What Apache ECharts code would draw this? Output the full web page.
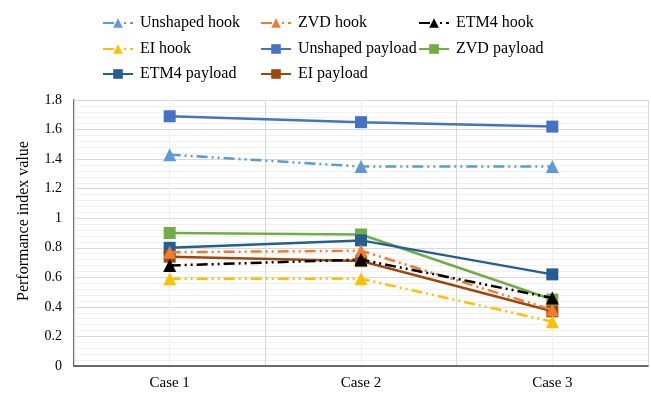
<!DOCTYPE html>
<html>
<head>
<meta charset="utf-8">
<style>
  html, body { margin: 0; padding: 0; background: #fff; }
  #chart { width: 651px; height: 399px; }
</style>
<script src="https://cdn.jsdelivr.net/npm/echarts@6/dist/echarts.min.js"></script>
</head>
<body>
<div id="chart"></div>
<script>
// Categories and tick values
const cases = ['Case 1', 'Case 2', 'Case 3'];
const yTicks = { min: 0, max: 1.8, step: 0.2 };

// Performance index values per method
const unshapedHook    = [1.43, 1.35, 1.35];
const zvdHook         = [0.77, 0.78, 0.38];
const etm4Hook        = [0.68, 0.72, 0.46];
const eiHook          = [0.59, 0.59, 0.30];
const unshapedPayload = [1.69, 1.65, 1.62];
const zvdPayload      = [0.90, 0.89, 0.45];
const etm4Payload     = [0.80, 0.85, 0.62];
const eiPayload       = [0.74, 0.71, 0.37];

const FONT = '"Liberation Serif", "Times New Roman", serif';
const dashDotDot = [11, 4, 2, 4, 2, 4];

const seriesDefs = [
  { name: 'Unshaped hook',    data: unshapedHook,    color: '#5B9BD5', hook: true },
  { name: 'ZVD hook',         data: zvdHook,         color: '#ED7D31', hook: true },
  { name: 'ETM4 hook',        data: etm4Hook,        color: '#000000', hook: true },
  { name: 'EI hook',          data: eiHook,          color: '#FFC000', hook: true },
  { name: 'Unshaped payload', data: unshapedPayload, color: '#4472C4', hook: false },
  { name: 'ZVD payload',      data: zvdPayload,      color: '#70AD47', hook: false },
  { name: 'ETM4 payload',     data: etm4Payload,     color: '#255E91', hook: false },
  { name: 'EI payload',       data: eiPayload,       color: '#9E480E', hook: false }
];

// Legend entry positions (three columns, three rows)
const legendSlots = [
  [102, 15], [260, 15], [418, 15],
  [102, 41], [260, 41], [418, 41],
  [102, 66], [260, 66]
];

const series = seriesDefs.map(d => ({
  name: d.name,
  type: 'line',
  xAxisIndex: 0,
  data: d.data,
  symbol: d.hook ? 'triangle' : 'rect',
  symbolSize: d.hook ? 13 : 12,
  showSymbol: true,
  z: d.hook ? 3 : 2,
  itemStyle: { color: d.color },
  lineStyle: {
    color: d.color,
    width: 2.5,
    type: d.hook ? dashDotDot : 'solid'
  },
  emphasis: { disabled: true },
  animation: false
}));

const legends = seriesDefs.map((d, i) => ({
  data: [d.name],
  left: legendSlots[i][0],
  top: legendSlots[i][1],
  padding: 0,
  orient: 'horizontal',
  itemWidth: 30,
  itemHeight: 12,
  itemGap: 8,
  selectedMode: false,
  textStyle: { fontFamily: FONT, fontSize: 16, color: '#000', padding: [0, 0, 0, 2] }
}));

const chart = echarts.init(document.getElementById('chart'), null, { renderer: 'canvas' });
chart.setOption({
  animation: false,
  backgroundColor: '#fff',
  legend: legends,
  grid: { left: 74, right: 3, top: 100, bottom: 33, containLabel: false },
  xAxis: [
    {
      type: 'category',
      data: cases,
      boundaryGap: true,
      axisLine: { lineStyle: { color: '#404040', width: 1.5 } },
      axisTick: { show: false },
      axisLabel: { fontFamily: FONT, fontSize: 15, color: '#000', margin: 10 },
      splitLine: { show: true, lineStyle: { color: '#d9d9d9', width: 1 } },
      z: 2
    },
    {
      // half-category grid lines through the case centres
      type: 'value',
      min: 0, max: 6, interval: 1,
      show: true,
      axisLine: { show: false },
      axisTick: { show: false },
      axisLabel: { show: false },
      splitLine: { show: true, lineStyle: { color: '#eeeeee', width: 1 } }
    }
  ],
  yAxis: {
    type: 'value',
    min: yTicks.min,
    max: yTicks.max,
    interval: yTicks.step,
    name: 'Performance index value',
    nameLocation: 'middle',
    nameGap: 42,
    nameTextStyle: { fontFamily: FONT, fontSize: 16, color: '#000', padding: [0, 0, 0, 24] },
    axisLine: { show: true, lineStyle: { color: '#404040', width: 1.5 } },
    axisTick: { show: false },
    axisLabel: {
      fontFamily: FONT, fontSize: 14, color: '#000', margin: 12,
      formatter: v => String(Math.round(v * 10) / 10)
    },
    splitLine: { show: true, lineStyle: { color: '#d9d9d9', width: 1 } },
    minorTick: { show: false, splitNumber: 5 },
    minorSplitLine: { show: true, lineStyle: { color: '#f0f0f0', width: 1 } }
  },
  series: series
});
</script>
</body>
</html>
